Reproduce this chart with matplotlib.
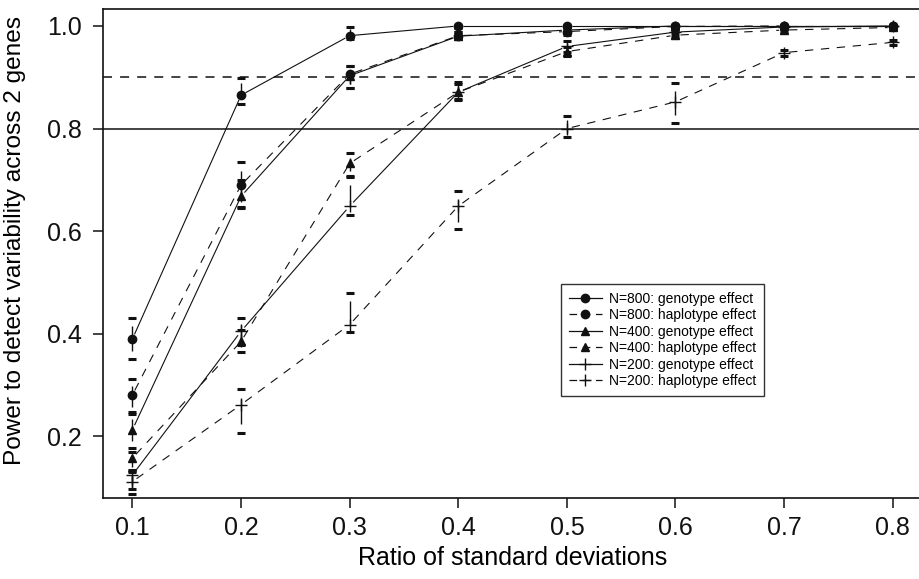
import numpy as np
import matplotlib
matplotlib.use("Agg")
import matplotlib.pyplot as plt
from matplotlib.lines import Line2D

plt.rcParams['font.family'] = ['Liberation Sans', 'DejaVu Sans']
plt.rcParams['lines.scale_dashes'] = False

# x positions (ratio of standard deviations)
ratios = [0.1, 0.2, 0.3, 0.4, 0.5, 0.6, 0.7, 0.8]

# power estimates and interval ends
p_800_g  = [0.390, 0.865, 0.981, 1.000, 1.000, 1.000, 1.000, 1.000]
lo_800_g = [0.350, 0.848, 0.974, 0.996, 0.998, 1.000, 1.000, 1.000]
hi_800_g = [0.431, 0.898, 0.998, 1.000, 1.000, 1.000, 1.000, 1.000]

p_800_h  = [0.281, 0.690, 0.906, 0.981, 0.989, 0.999, 1.000, 1.000]
lo_800_h = [0.243, 0.648, 0.879, 0.974, 0.982, 0.996, 1.000, 1.000]
hi_800_h = [0.311, 0.734, 0.922, 0.988, 0.996, 1.000, 1.000, 1.000]

p_400_g  = [0.213, 0.668, 0.903, 0.980, 0.992, 1.000, 1.000, 1.000]
lo_400_g = [0.177, 0.645, 0.879, 0.974, 0.986, 1.000, 1.000, 1.000]
hi_400_g = [0.248, 0.700, 0.922, 0.988, 0.998, 1.000, 1.000, 1.000]

p_400_h  = [0.158, 0.385, 0.732, 0.871, 0.950, 0.982, 0.992, 0.997]
lo_400_h = [0.133, 0.365, 0.708, 0.856, 0.942, 0.976, 0.988, 0.995]
hi_400_h = [0.170, 0.408, 0.752, 0.891, 0.958, 0.988, 0.996, 0.999]

p_200_g  = [0.125, 0.405, 0.649, 0.871, 0.960, 0.988, 0.998, 1.000]
lo_200_g = [0.098, 0.378, 0.632, 0.858, 0.950, 0.982, 0.995, 1.000]
hi_200_g = [0.130, 0.430, 0.705, 0.886, 0.970, 0.993, 1.000, 1.000]

p_200_h  = [0.112, 0.262, 0.418, 0.649, 0.800, 0.852, 0.948, 0.968]
lo_200_h = [0.088, 0.207, 0.404, 0.604, 0.784, 0.810, 0.942, 0.962]
hi_200_h = [0.135, 0.293, 0.480, 0.678, 0.825, 0.888, 0.954, 0.973]

labels = ["N=800: genotype effect", "N=800: haplotype effect",
          "N=400: genotype effect", "N=400: haplotype effect",
          "N=200: genotype effect", "N=200: haplotype effect"]
markers = ['o', 'o', '^', '^', '+', '+']
styles = ['-', '--', '-', '--', '-', '--']
series = [(p_800_g, lo_800_g, hi_800_g), (p_800_h, lo_800_h, hi_800_h),
          (p_400_g, lo_400_g, hi_400_g), (p_400_h, lo_400_h, hi_400_h),
          (p_200_g, lo_200_g, hi_200_g), (p_200_h, lo_200_h, hi_200_h)]

fig = plt.figure(figsize=(9.19, 5.79), dpi=100)
ax = fig.add_axes([102.7 / 919, 81 / 579, 820.3 / 919, 489 / 579])
ax.set_xlim(0.0726, 0.8279)
ax.set_ylim(0.080, 1.033)

DASH = (6.0, 5.5)


def gapped_line(x, y, ls, gap=5.0):
    # R type="b": segments stop short of the points
    pts = ax.transData.transform(np.column_stack([x, y]))
    inv = ax.transData.inverted()
    for p0, p1 in zip(pts[:-1], pts[1:]):
        d = p1 - p0
        L = np.hypot(*d)
        if L <= 2 * gap:
            continue
        u = d / L
        a = inv.transform(p0 + u * gap)
        b = inv.transform(p1 - u * gap)
        kw = dict(color='#111111', lw=0.8, solid_capstyle='butt')
        if ls == '--':
            kw['dashes'] = DASH
        ax.plot([a[0], b[0]], [a[1], b[1]], **kw)


ax.axhline(0.9, color='#111111', lw=1.1, dashes=(6.5, 5.8))
ax.axhline(0.8, color='#111111', lw=1.1)

x = np.array(ratios)
for (p, lo, hi), m, ls in zip(series, markers, styles):
    gapped_line(x, p, ls)

for (p, lo, hi), m, ls in zip(series, markers, styles):
    lo = np.array(lo)
    hi = np.array(hi)
    mid = (lo + hi) / 2
    half = (hi - lo) / 2
    ax.vlines(x, mid - 0.6 * half, mid + 0.6 * half, color='#111111', lw=1.0)
    ax.plot(x, lo, ls='none', marker='_', ms=5.5, mew=2.2, color='#111111')
    ax.plot(x, hi, ls='none', marker='_', ms=5.5, mew=2.2, color='#111111')

for (p, lo, hi), m, ls in zip(series, markers, styles):
    if m == '+':
        ax.plot(x, p, ls='none', marker='+', ms=8, mew=1.0, color='#111111')
    else:
        ax.plot(x, p, ls='none', marker=m, ms=6, color='#111111', mec='#111111')

ax.set_xticks(ratios)
ax.set_xticklabels([f"{v:.1f}" for v in ratios])
ax.set_yticks([0.2, 0.4, 0.6, 0.8, 1.0])
ax.set_yticklabels(["0.2", "0.4", "0.6", "0.8", "1.0"])
ax.tick_params(direction='out', length=7, width=1.1, labelsize=18, colors='#111111')
ax.tick_params(axis='x', pad=6)
ax.tick_params(axis='y', pad=8)
for s in ax.spines.values():
    s.set_linewidth(1.2)
    s.set_color('#111111')

ax.set_xlabel("Ratio of standard deviations", fontsize=18, labelpad=4)
ax.set_ylabel("Power to detect variability across 2 genes", fontsize=17.6)
ax.yaxis.set_label_coords(-0.094, 0.527)

handles = []
for lab, m, ls in zip(labels, markers, styles):
    kw = dict(color='#111111', lw=0.9, marker=m,
              ms=8 if m == '+' else 6, mew=1.0)
    if ls == '--':
        kw['dashes'] = (5.5, 4.0)
    handles.append(Line2D([], [], label=lab, **kw))
leg = ax.legend(handles=handles, loc='upper left', bbox_to_anchor=(0.5587, 0.4376),
                borderaxespad=0, fontsize=10, frameon=True, fancybox=False,
                framealpha=1, edgecolor='#333333', handlelength=2.4,
                handletextpad=0.5, labelspacing=0.18, borderpad=0.55)
leg.get_frame().set_linewidth(1.0)

fig.savefig("out.png", dpi=100)
